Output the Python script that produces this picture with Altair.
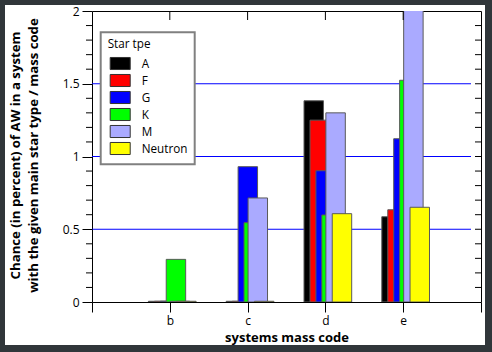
import altair as alt
import pandas as pd

# ---- data ----
mass_codes = ["b", "c", "d", "e"]
tick_positions = [0, 1, 2, 3, 4, 5]
tick_labels = ["", "b", "c", "d", "e", ""]
star_types = ["A", "F", "G", "K", "M", "Neutron"]
star_colors = ["#000000", "#ff0000", "#0000ff", "#00ff00", "#aaaaff", "#ffff00"]

val_A = [0.005, 0.005, 1.383, 0.586]
val_F = [0.005, 0.005, 1.250, 0.634]
val_G = [0.005, 0.930, 0.902, 1.122]
val_K = [0.293, 0.545, 0.598, 1.524]
val_M = [0.005, 0.715, 1.300, 2.300]
val_N = [0.005, 0.005, 0.607, 0.651]
series_values = [val_A, val_F, val_G, val_K, val_M, val_N]

y_major = [0, 0.5, 1, 1.5, 2]
y_grid = [0.5, 1, 1.5]
y_fine = [i / 10 for i in range(1, 20)]
y_minor = [v for v in y_fine if round(v * 10) % 5 != 0]

# ---- styling constants ----
bar_offsets = [-0.275, -0.198, -0.122, -0.046, 0.006, 0.088]
bar_width = 0.25
FONT = "Open Sans"
W, H = 389, 291
DARK = "#30363a"

rows = []
for t, off, vals in zip(star_types, bar_offsets, series_values):
    for gi, (code, v) in enumerate(zip(mass_codes, vals)):
        x0 = gi + 1 + off
        rows.append({"type": t, "code": code, "x0": x0, "x1": x0 + bar_width,
                     "value": v, "base": 0})
bars_df = pd.DataFrame(rows)

xscale = alt.Scale(domain=[0, 5], nice=False, zero=False)
yscale = alt.Scale(domain=[0, 2], nice=False, zero=False)

label_expr = "[" + ",".join("'%s'" % l for l in tick_labels) + "][datum.value]"

x_axis = alt.Axis(
    values=tick_positions, labelExpr=label_expr, tickSize=10,
    tickColor="black", domain=False, grid=False,
    labelFont=FONT, labelFontSize=12, labelColor="black",
    labelBaseline="alphabetic", labelPadding=12.5,
    title="systems mass code", titleFont=FONT, titleFontSize=13,
    titleFontWeight="bold", titleColor="black",
    titleBaseline="alphabetic", titleY=39, zindex=1)

y_axis = alt.Axis(
    values=y_major, format="~g", tickSize=10, tickColor="black",
    domain=False, grid=False, labelFont=FONT, labelFontSize=12,
    labelColor="black", labelPadding=3,
    title=["Chance (in percent) of AW in a system",
           "with the given main star type / mass code"],
    titleFont=FONT, titleFontSize=13.2, titleFontWeight="bold",
    titleColor="black", titleAngle=270, titleAlign="center",
    titleBaseline="alphabetic", titleLineHeight=18.5,
    titleX=-73, titleY=144, zindex=1)

one = pd.DataFrame({"a": [0]})


def strip(x0, x1, y0, y1):
    return alt.Chart(one).mark_rect(fill=DARK, clip=False).encode(
        x=alt.value(x0), x2=alt.value(x1), y=alt.value(y0), y2=alt.value(y1))


frame_left = strip(-92, -87, -11, 341)
frame_right = strip(393, 400, -11, 341)
frame_top = strip(-92, 400, -11, -6)
frame_bottom = strip(-92, 400, 334, 341)

grid = alt.Chart(pd.DataFrame({"gy": y_grid})).mark_rule(
    color="#0000ff", strokeWidth=1
).encode(
    y=alt.Y("gy:Q", scale=yscale, axis=y_axis),
    x=alt.value(0), x2=alt.value(379)
)

bars = alt.Chart(bars_df).mark_rect(
    stroke="#5a5a5a", strokeWidth=1, clip=True
).encode(
    x=alt.X("x0:Q", scale=xscale, axis=x_axis),
    x2="x1:Q",
    y=alt.Y("value:Q", scale=yscale, axis=y_axis),
    y2="base:Q",
    color=alt.Color("type:N", scale=alt.Scale(domain=star_types, range=star_colors),
                    legend=alt.Legend(
                        title="Star tpe", orient="none", legendX=8.7, legendY=21.3,
                        fillColor="white", strokeColor="#808080",
                        padding=7, titleFont=FONT, titleFontSize=11.7,
                        titleFontWeight="normal", titleColor="black", titlePadding=5,
                        labelFont=FONT, labelFontSize=11.7, labelColor="black",
                        symbolType="M-1.43,-0.86H1.43V0.86H-1.43Z", symbolSize=196,
                        symbolStrokeColor="#333333", symbolStrokeWidth=1,
                        symbolOffset=5, labelOffset=14, rowPadding=0)),
)

top_ticks = alt.Chart(pd.DataFrame({"tx": tick_positions[1:-1]})).mark_rule(
    color="black"
).encode(
    x=alt.X("tx:Q", scale=xscale, axis=x_axis), y=alt.value(0), y2=alt.value(9)
)

right_ticks = alt.Chart(pd.DataFrame({"ry": y_fine})).mark_rule(
    color="black"
).encode(
    y=alt.Y("ry:Q", scale=yscale, axis=y_axis), x=alt.value(W - 6), x2=alt.value(W)
)

left_minor = alt.Chart(pd.DataFrame({"my": y_minor})).mark_rule(
    color="black", clip=False
).encode(
    y=alt.Y("my:Q", scale=yscale, axis=y_axis), x=alt.value(-6), x2=alt.value(0)
)

chart = alt.layer(grid, bars, top_ticks, right_ticks, left_minor,
                  frame_left, frame_right, frame_top, frame_bottom).properties(
    width=W, height=H,
    background="white",
    padding={"left": 92, "top": 11, "right": 11, "bottom": 50},
    autosize=alt.AutoSizeParams(type="none"),
).configure_view(
    stroke="black", strokeWidth=1, fill="white"
).configure_legend(
    strokeWidth=2
)

chart.save("out.html", embed_options={"renderer": "svg", "actions": False})
